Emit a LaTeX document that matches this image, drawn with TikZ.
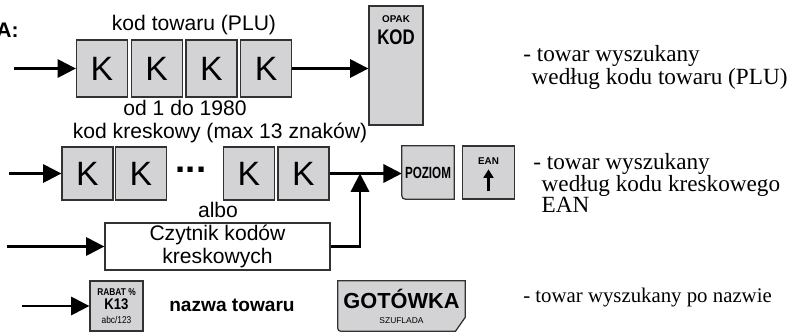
\documentclass[tikz,border=0pt]{standalone}
\usepackage{fontspec}
\usepackage{graphicx}
\setmainfont{Liberation Serif}
\setsansfont{Liberation Sans}
\usetikzlibrary{arrows.meta,backgrounds}
\definecolor{keygray}{RGB}{211,211,213}
\definecolor{edgegray}{RGB}{50,50,50}
\tikzset{
	kbox/.style={draw=edgegray, line width=0.9pt, fill=keygray, inner sep=0pt, minimum width=1.275cm, font=\sffamily\fontsize{24}{24}\selectfont},
	wire/.style={line width=1.7pt, -{Triangle[length=13pt,width=13pt]}},
	lbl/.style={inner sep=0pt, font=\sffamily\fontsize{15}{16}\selectfont},
	desc/.style={inner sep=0pt, anchor=west, align=left, font=\fontsize{16.5}{15}\selectfont},
	tiny/.style={inner sep=0pt, font=\sffamily\bfseries\fontsize{7}{8}\selectfont}
}
\begin{document}
\begin{tikzpicture}[x=0.025cm, y=-0.025cm]
	\useasboundingbox (0,0) rectangle (798,332);
	
	% Nagłówek (ucięty)
	\node[inner sep=0pt, anchor=east, font=\sffamily\bfseries\fontsize{15}{15}\selectfont] (hdr) at (19,30) {A:};
	
	% Wiersz 1: kod towaru (PLU)
	\foreach \i in {1,...,4} {
		\node[kbox, minimum height=1.425cm] (k\i) at ({102+54.7*(\i-1)},68.5) {K};
	}
	\node[lbl] (plu) at (194,25) {kod towaru (PLU)};
	\node[lbl] (zakres) at (185,108) {od 1 do 1980};
	\node[kbox, minimum width=1.35cm, minimum height=2.975cm] (kod) at (396,65.5) {};
	\node[tiny] (opak) at ([yshift=-0.35cm]kod.north) {OPAK};
	\node[inner sep=0pt, font=\sffamily\bfseries\fontsize{15}{15}\selectfont] (kodtxt) at ([yshift=-0.8cm]kod.north) {\scalebox{0.8}[1]{KOD}};
	\coordinate (in1) at (14,68.5);
	\draw[wire] (in1) -- (k1.west);
	\draw[wire] (k4.east) -- (kod.west |- k4.east);
	
	% Wiersz 2: kod kreskowy
	\foreach \i/\x in {1/87.5, 2/141, 3/249, 4/303.5} {
		\node[kbox, minimum height=1.325cm] (b\i) at (\x,173.5) {K};
	}
	\node[inner sep=0pt, font=\sffamily\bfseries\fontsize{26}{26}\selectfont] (kropki) at (191,170) {...};
	\node[lbl] (kresk) at (220,133) {kod kreskowy (max 13 znaków)};
	\node[lbl] (albo) at (218,210) {albo};
	\node[draw=edgegray, line width=0.9pt, fill=white, align=center, minimum width=5.625cm, minimum height=1.175cm, lbl] (czyt) at (217.5,246.5) {Czytnik kodów\\kreskowych};
	
	% Klawisze POZIOM i EAN
	\node[inner sep=0pt, minimum width=1.3cm, minimum height=1.325cm, font=\sffamily\bfseries\fontsize{11.5}{12}\selectfont] (poz) at (428,172.5) {\scalebox{0.72}[1]{POZIOM}};
	\begin{pgfonlayer}{background}
		\filldraw[draw=edgegray, line width=0.9pt, fill=keygray] (poz.north west) -- (poz.north east) -- (poz.south east) -- ([xshift=6pt]poz.south west) .. controls (poz.south west) .. ([yshift=6pt]poz.south west) -- cycle;
	\end{pgfonlayer}
	\node[kbox, minimum width=1.3cm, minimum height=1.325cm] (ean) at (488.5,172.5) {};
	\node[tiny] (eantxt) at ([yshift=-0.4cm]ean.north) {EAN};
	\coordinate (strz1) at ([yshift=-1.15cm]ean.north);
	\coordinate (strz2) at ([yshift=-0.6cm]ean.north);
	\draw[line width=1.6pt, -{Triangle[length=6pt,width=7pt]}] (strz1) -- (strz2);
	
	\coordinate (in2) at (9,173.5);
	\coordinate (in3) at (7,246.5);
	\coordinate (j) at (360,173.5);
	\draw[wire] (in2) -- (b1.west);
	\draw[wire] (b4.east) -- (poz.west |- b4.east);
	\draw[wire] (in3) -- (czyt.west);
	\draw[wire] (czyt.east) -| (j);
	
	% Wiersz 3: nazwa towaru
	\node[kbox, minimum width=1.325cm, minimum height=1.25cm, align=center, font=\sffamily\bfseries\fontsize{7}{8}\selectfont] (rabat) at (116.5,306) {\scalebox{0.85}[1]{RABAT \%}\\[2pt]{\fontsize{11}{11}\selectfont\scalebox{0.85}[1]{K13}}\\[2pt]\mdseries\scalebox{0.85}[1]{abc/123}};
	\node[inner sep=0pt, font=\sffamily\bfseries\fontsize{13.6}{14}\selectfont] (nazwa) at (232,305) {nazwa towaru};
	\node[inner sep=0pt, minimum width=3.175cm, minimum height=1.25cm] (got) at (401.5,306) {};
	\begin{pgfonlayer}{background}
		\filldraw[draw=edgegray, line width=0.9pt, fill=keygray] (got.north west) -- (got.north east) -- ([yshift=10pt]got.south east) -- ([xshift=-7pt]got.south east) -- ([xshift=5pt]got.south west) .. controls (got.south west) .. ([yshift=5pt]got.south west) -- cycle;
	\end{pgfonlayer}
	\node[inner sep=0pt, anchor=base, font=\sffamily\bfseries\fontsize{15.5}{16}\selectfont] (gottxt) at ([yshift=-0.05cm]got.center) {GOTÓWKA};
	\node[inner sep=0pt, font=\sffamily\fontsize{6}{6}\selectfont] (szuf) at ([yshift=0.27cm]got.south) {SZUFLADA};
	\coordinate (in4) at (22,306);
	\draw[wire] (in4) -- (rabat.west);
	
	% Opisy
	\node[desc] (opis1) at (523,67.5) {- towar wyszukany\\\hspace*{6pt}według kodu towaru (PLU)};
	\node[desc] (opis2) at (533,183) {- towar wyszukany\\\hspace*{6pt}według kodu kreskowego\\\hspace*{6pt}EAN};
	\node[desc, font=\fontsize{14.8}{15}\selectfont] (opis3) at (523,298) {- towar wyszukany po nazwie};
\end{tikzpicture}
\end{document}
